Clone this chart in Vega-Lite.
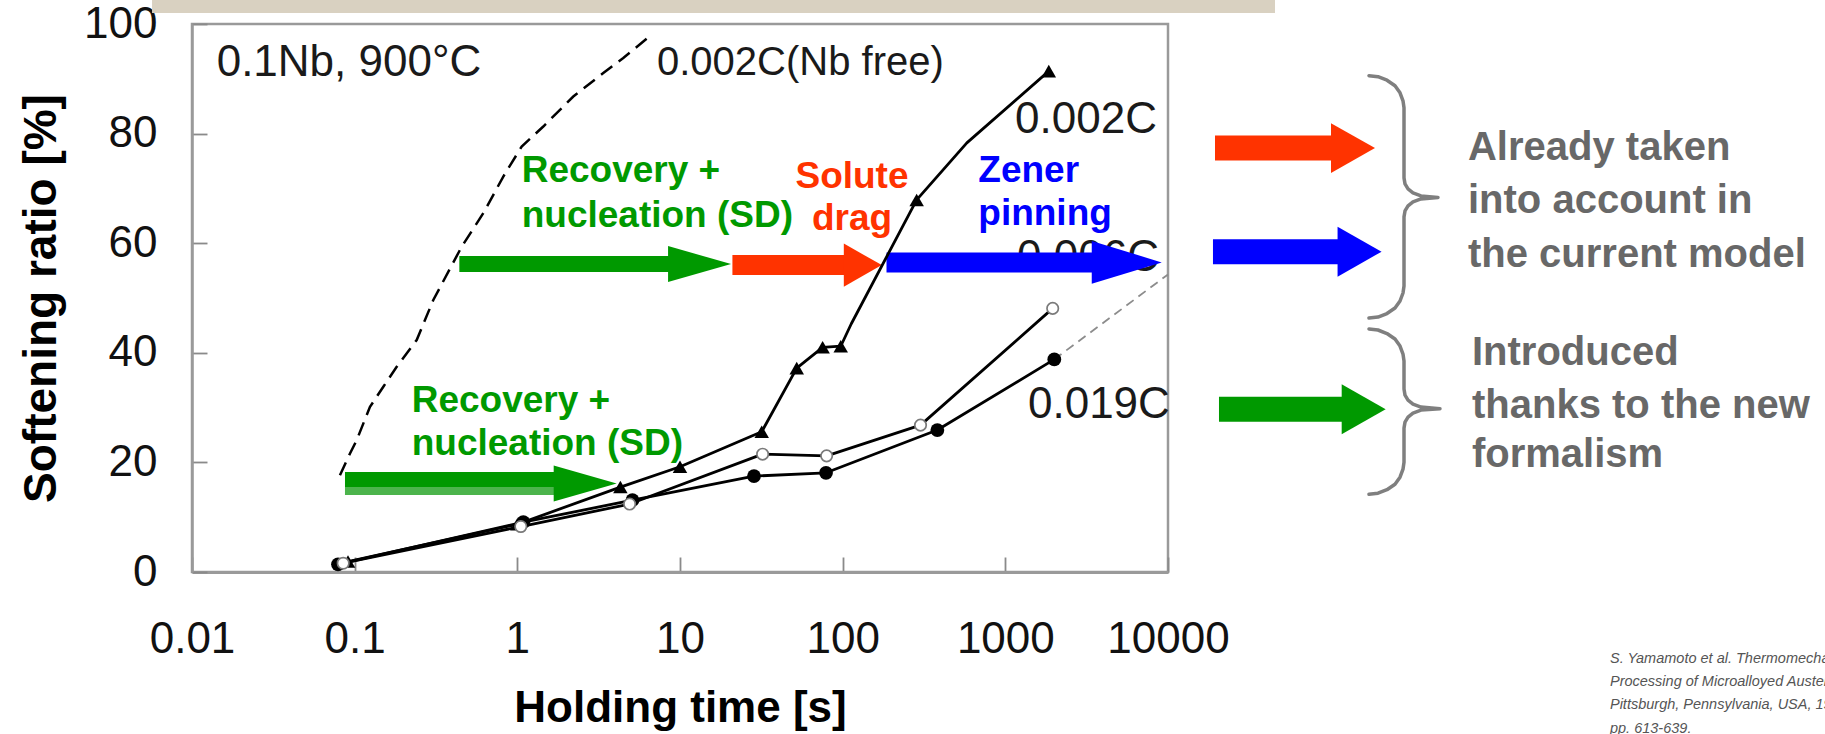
{
  "$schema": "https://vega.github.io/schema/vega-lite/v6.json",
  "width": 976,
  "height": 548,
  "autosize": {"type": "none"},
  "padding": {"left": 192, "top": 24, "right": 657, "bottom": 162},
  "background": "white",
  "config": {
    "font": "Liberation Sans",
    "view": {"stroke": "#9a9a9a", "strokeWidth": 2.5},
    "axis": {"grid": false},
    "axisX": {
      "tickSize": -15, "tickWidth": 1.8, "tickColor": "#8a8a8a",
      "domainColor": "#9a9a9a", "domainWidth": 3,
      "labelFontSize": 44, "labelColor": "#111111", "labelPadding": 60,
      "labelFlush": false, "labelOverlap": false, "labelBound": false,
      "titleFontSize": 44, "titleFontWeight": "bold", "titleColor": "#000000", "titlePadding": 25
    },
    "axisY": {
      "tickSize": -15, "tickWidth": 1.8, "tickColor": "#8a8a8a",
      "domainColor": "#9a9a9a", "domainWidth": 2.5,
      "labelFontSize": 44, "labelColor": "#111111", "labelPadding": 50,
      "labelFlush": false, "labelOverlap": false, "labelBound": false,
      "titleFontSize": 46, "titleFontWeight": "bold", "titleColor": "#000000", "titlePadding": 18
    }
  },
  "datasets": {
    "banner": [{"t0": 0.00568, "t1": 45470, "r0": 102.0, "r1": 106}],
    "curves": [
      {"steel": "0.002C (Nb free)", "time": 0.0812, "ratio": 17.66, "kind": "trace"},
      {"steel": "0.002C (Nb free)", "time": 0.0936, "ratio": 21.63, "kind": "trace"},
      {"steel": "0.002C (Nb free)", "time": 0.1029, "ratio": 24.06, "kind": "trace"},
      {"steel": "0.002C (Nb free)", "time": 0.1242, "ratio": 30.14, "kind": "trace"},
      {"steel": "0.002C (Nb free)", "time": 0.150, "ratio": 33.80, "kind": "trace"},
      {"steel": "0.002C (Nb free)", "time": 0.1813, "ratio": 37.45, "kind": "trace"},
      {"steel": "0.002C (Nb free)", "time": 0.2406, "ratio": 42.33, "kind": "trace"},
      {"steel": "0.002C (Nb free)", "time": 0.3044, "ratio": 49.64, "kind": "trace"},
      {"steel": "0.002C (Nb free)", "time": 0.455, "ratio": 59.37, "kind": "trace"},
      {"steel": "0.002C (Nb free)", "time": 0.6176, "ratio": 65.47, "kind": "trace"},
      {"steel": "0.002C (Nb free)", "time": 0.8197, "ratio": 72.16, "kind": "trace"},
      {"steel": "0.002C (Nb free)", "time": 1.0636, "ratio": 77.64, "kind": "trace"},
      {"steel": "0.002C (Nb free)", "time": 1.4441, "ratio": 81.29, "kind": "trace"},
      {"steel": "0.002C (Nb free)", "time": 2.208, "ratio": 86.77, "kind": "trace"},
      {"steel": "0.002C (Nb free)", "time": 3.376, "ratio": 91.05, "kind": "trace"},
      {"steel": "0.002C (Nb free)", "time": 4.481, "ratio": 93.79, "kind": "trace"},
      {"steel": "0.002C (Nb free)", "time": 6.6, "ratio": 97.9, "kind": "trace"},

      {"steel": "0.002C", "time": 0.091, "ratio": 1.9, "kind": "measured"},
      {"steel": "0.002C", "time": 1.0, "ratio": 8.7, "kind": "measured"},
      {"steel": "0.002C", "time": 4.3, "ratio": 15.5, "kind": "measured"},
      {"steel": "0.002C", "time": 10.0, "ratio": 19.2, "kind": "measured"},
      {"steel": "0.002C", "time": 31.8, "ratio": 25.6, "kind": "measured"},
      {"steel": "0.002C", "time": 52.2, "ratio": 37.2, "kind": "measured"},
      {"steel": "0.002C", "time": 75.3, "ratio": 41.0, "kind": "measured"},
      {"steel": "0.002C", "time": 97.3, "ratio": 41.2, "kind": "measured"},
      {"steel": "0.002C", "time": 113, "ratio": 45.3, "kind": "trace"},
      {"steel": "0.002C", "time": 285, "ratio": 67.9, "kind": "measured"},
      {"steel": "0.002C", "time": 580, "ratio": 78.3, "kind": "trace"},
      {"steel": "0.002C", "time": 1850, "ratio": 91.4, "kind": "measured"},

      {"steel": "0.006C", "time": 0.085, "ratio": 1.6, "kind": "measured"},
      {"steel": "0.006C", "time": 1.05, "ratio": 8.3, "kind": "measured"},
      {"steel": "0.006C", "time": 4.9, "ratio": 12.4, "kind": "measured"},
      {"steel": "0.006C", "time": 32.2, "ratio": 21.5, "kind": "measured"},
      {"steel": "0.006C", "time": 79.7, "ratio": 21.2, "kind": "measured"},
      {"steel": "0.006C", "time": 301, "ratio": 26.8, "kind": "measured"},
      {"steel": "0.006C", "time": 1955, "ratio": 48.1, "kind": "measured"},

      {"steel": "0.019C", "time": 0.079, "ratio": 1.4, "kind": "measured"},
      {"steel": "0.019C", "time": 1.088, "ratio": 9.1, "kind": "measured"},
      {"steel": "0.019C", "time": 5.1, "ratio": 13.1, "kind": "measured"},
      {"steel": "0.019C", "time": 28.5, "ratio": 17.5, "kind": "measured"},
      {"steel": "0.019C", "time": 79.0, "ratio": 18.1, "kind": "measured"},
      {"steel": "0.019C", "time": 382, "ratio": 25.9, "kind": "measured"},
      {"steel": "0.019C", "time": 2000, "ratio": 38.8, "kind": "measured"},

      {"steel": "0.019C trend", "time": 2000, "ratio": 38.8, "kind": "trace"},
      {"steel": "0.019C trend", "time": 10000, "ratio": 54.3, "kind": "trace"}
    ],
    "arrows": [
      {"process": "Recovery + nucleation", "place": "upper", "t": 0.44, "base": 8.8, "tip": 20.6, "r": 56.2},
      {"process": "Solute drag", "place": "upper", "t": 21.0, "base": 103, "tip": 174, "r": 56.0},
      {"process": "Zener pinning", "place": "upper", "t": 186, "base": 3460, "tip": 9150, "r": 56.5},
      {"process": "Recovery + nucleation", "place": "lower", "t": 0.0872, "base": 1.70, "tip": 4.08, "r": 16.15},
      {"process": "Solute drag", "place": "side", "t": 19450, "base": 107800, "tip": 187300, "r": 77.35},
      {"process": "Zener pinning", "place": "side", "t": 18900, "base": 114100, "tip": 205600, "r": 58.46},
      {"process": "Recovery + nucleation", "place": "side", "t": 20580, "base": 118200, "tip": 217800, "r": 29.72}
    ],
    "braces": [
      {"brace": "model", "seq": 1, "t": 172000, "r": 90.56},
      {"brace": "model", "seq": 2, "t": 195400, "r": 90.38},
      {"brace": "model", "seq": 3, "t": 221900, "r": 89.74},
      {"brace": "model", "seq": 4, "t": 248600, "r": 88.73},
      {"brace": "model", "seq": 5, "t": 266900, "r": 87.45},
      {"brace": "model", "seq": 6, "t": 278400, "r": 85.99},
      {"brace": "model", "seq": 7, "t": 282400, "r": 84.71},
      {"brace": "model", "seq": 8, "t": 282400, "r": 71.92},
      {"brace": "model", "seq": 9, "t": 286400, "r": 70.82},
      {"brace": "model", "seq": 10, "t": 298900, "r": 69.91},
      {"brace": "model", "seq": 11, "t": 320600, "r": 69.18},
      {"brace": "model", "seq": 12, "t": 359200, "r": 68.63},
      {"brace": "model", "seq": 13, "t": 456700, "r": 68.36},
      {"brace": "model", "seq": 14, "t": 359200, "r": 68.08},
      {"brace": "model", "seq": 15, "t": 320600, "r": 67.53},
      {"brace": "model", "seq": 16, "t": 298900, "r": 66.80},
      {"brace": "model", "seq": 17, "t": 286400, "r": 65.89},
      {"brace": "model", "seq": 18, "t": 282400, "r": 64.80},
      {"brace": "model", "seq": 19, "t": 282400, "r": 52.19},
      {"brace": "model", "seq": 20, "t": 278400, "r": 50.91},
      {"brace": "model", "seq": 21, "t": 266900, "r": 49.45},
      {"brace": "model", "seq": 22, "t": 248600, "r": 48.17},
      {"brace": "model", "seq": 23, "t": 221900, "r": 47.17},
      {"brace": "model", "seq": 24, "t": 195400, "r": 46.53},
      {"brace": "model", "seq": 25, "t": 172000, "r": 46.35},
      {"brace": "new", "seq": 1, "t": 172000, "r": 44.34},
      {"brace": "new", "seq": 2, "t": 195400, "r": 44.16},
      {"brace": "new", "seq": 3, "t": 221900, "r": 43.52},
      {"brace": "new", "seq": 4, "t": 248600, "r": 42.51},
      {"brace": "new", "seq": 5, "t": 266900, "r": 41.23},
      {"brace": "new", "seq": 6, "t": 278400, "r": 39.77},
      {"brace": "new", "seq": 7, "t": 282400, "r": 38.49},
      {"brace": "new", "seq": 8, "t": 282400, "r": 33.38},
      {"brace": "new", "seq": 9, "t": 286400, "r": 32.28},
      {"brace": "new", "seq": 10, "t": 298900, "r": 31.37},
      {"brace": "new", "seq": 11, "t": 320600, "r": 30.64},
      {"brace": "new", "seq": 12, "t": 359200, "r": 30.09},
      {"brace": "new", "seq": 13, "t": 469900, "r": 29.81},
      {"brace": "new", "seq": 14, "t": 359200, "r": 29.54},
      {"brace": "new", "seq": 15, "t": 320600, "r": 28.99},
      {"brace": "new", "seq": 16, "t": 298900, "r": 28.26},
      {"brace": "new", "seq": 17, "t": 286400, "r": 27.35},
      {"brace": "new", "seq": 18, "t": 282400, "r": 26.25},
      {"brace": "new", "seq": 19, "t": 282400, "r": 20.04},
      {"brace": "new", "seq": 20, "t": 278400, "r": 18.76},
      {"brace": "new", "seq": 21, "t": 266900, "r": 17.30},
      {"brace": "new", "seq": 22, "t": 248600, "r": 16.02},
      {"brace": "new", "seq": 23, "t": 221900, "r": 15.02},
      {"brace": "new", "seq": 24, "t": 195400, "r": 14.38},
      {"brace": "new", "seq": 25, "t": 172000, "r": 14.19}
    ],
    "notes": [
      {"group": "curve", "label": "0.1Nb, 900°C", "t": 0.01418, "r": 90.43},
      {"group": "curve-free", "label": "0.002C(Nb free)", "t": 7.22, "r": 90.74},
      {"group": "curve", "label": "0.002C", "t": 1147, "r": 80.09},
      {"group": "curve", "label": "0.006C", "t": 1180, "r": 54.93},
      {"group": "curve", "label": "0.019C", "t": 1378, "r": 28.08},
      {"group": "recovery", "label": "Recovery +", "t": 1.0636, "r": 71.25},
      {"group": "recovery", "label": "nucleation (SD)", "t": 1.0636, "r": 63.03},
      {"group": "recovery", "label": "Recovery +", "t": 0.2242, "r": 29.23},
      {"group": "recovery", "label": "nucleation (SD)", "t": 0.2242, "r": 21.32},
      {"group": "drag", "label": "Solute", "t": 114.1, "r": 70.04},
      {"group": "drag", "label": "drag", "t": 114.1, "r": 62.42},
      {"group": "pinning", "label": "Zener", "t": 681.9, "r": 71.25},
      {"group": "pinning", "label": "pinning", "t": 681.9, "r": 63.34},
      {"group": "summary", "label": "Already taken", "t": 698500, "r": 75.23},
      {"group": "summary", "label": "into account in", "t": 698500, "r": 65.47},
      {"group": "summary", "label": "the current model", "t": 698500, "r": 55.72},
      {"group": "summary", "label": "Introduced", "t": 739200, "r": 37.76},
      {"group": "summary", "label": "thanks to the new", "t": 739200, "r": 28.02},
      {"group": "summary", "label": "formalism", "t": 739200, "r": 19.18},
      {"group": "reference", "label": "S. Yamamoto et al. Thermomechanical", "t": 5213000, "r": -16.68},
      {"group": "reference", "label": "Processing of Microalloyed Austenite,", "t": 5213000, "r": -20.88},
      {"group": "reference", "label": "Pittsburgh, Pennsylvania, USA, 1982,", "t": 5213000, "r": -25.08},
      {"group": "reference", "label": "pp. 613-639.", "t": 5213000, "r": -29.29}
    ]
  },
  "layer": [
    {
      "data": {"name": "curves"},
      "transform": [{"filter": {"field": "steel", "oneOf": ["0.002C", "0.006C", "0.019C"]}}],
      "mark": {"type": "line", "color": "#000000", "strokeWidth": 2.4, "opacity": 0},
      "encoding": {
        "x": {
          "field": "time", "type": "quantitative", "title": "Holding time [s]",
          "scale": {"type": "log", "domain": [0.01, 10000], "nice": false},
          "axis": {"values": [0.01, 0.1, 1, 10, 100, 1000, 10000], "format": "~g"}
        },
        "y": {
          "field": "ratio", "type": "quantitative", "title": "Softening ratio [%]",
          "scale": {"domain": [0, 100], "nice": false, "zero": false},
          "axis": {"values": [0, 20, 40, 60, 80, 100]}
        },
        "detail": {"field": "steel"}
      }
    },
    {
      "data": {"name": "banner"},
      "mark": {"type": "rect", "color": "#d9d1c1", "clip": false},
      "encoding": {
        "x": {"field": "t0", "type": "quantitative", "title": "Holding time [s]", "scale": {"type": "log", "domain": [0.01, 10000], "nice": false}},
        "x2": {"field": "t1"},
        "y": {"field": "r0", "type": "quantitative", "title": "Softening ratio [%]", "scale": {"domain": [0, 100], "nice": false, "zero": false}},
        "y2": {"field": "r1"}
      }
    },
    {
      "data": {"name": "notes"},
      "transform": [{"filter": "datum.group == 'curve'"}],
      "mark": {"type": "text", "align": "left", "baseline": "alphabetic", "fontSize": 44, "color": "#1a1a1a", "clip": false},
      "encoding": {
        "x": {"field": "t", "type": "quantitative", "title": "Holding time [s]", "scale": {"type": "log", "domain": [0.01, 10000], "nice": false}},
        "y": {"field": "r", "type": "quantitative", "title": "Softening ratio [%]", "scale": {"domain": [0, 100], "nice": false, "zero": false}},
        "text": {"field": "label"}
      }
    },
    {
      "data": {"name": "notes"},
      "transform": [{"filter": "datum.group == 'curve-free'"}],
      "mark": {"type": "text", "align": "left", "baseline": "alphabetic", "fontSize": 40, "color": "#1a1a1a", "clip": false},
      "encoding": {
        "x": {"field": "t", "type": "quantitative", "title": "Holding time [s]", "scale": {"type": "log", "domain": [0.01, 10000], "nice": false}},
        "y": {"field": "r", "type": "quantitative", "title": "Softening ratio [%]", "scale": {"domain": [0, 100], "nice": false, "zero": false}},
        "text": {"field": "label"}
      }
    },
    {
      "data": {"name": "notes"},
      "transform": [{"filter": "datum.group == 'recovery'"}],
      "mark": {"type": "text", "align": "left", "baseline": "alphabetic", "fontSize": 37, "fontWeight": "bold", "color": "#009900", "clip": false},
      "encoding": {
        "x": {"field": "t", "type": "quantitative", "title": "Holding time [s]", "scale": {"type": "log", "domain": [0.01, 10000], "nice": false}},
        "y": {"field": "r", "type": "quantitative", "title": "Softening ratio [%]", "scale": {"domain": [0, 100], "nice": false, "zero": false}},
        "text": {"field": "label"}
      }
    },
    {
      "data": {"name": "notes"},
      "transform": [{"filter": "datum.group == 'drag'"}],
      "mark": {"type": "text", "align": "center", "baseline": "alphabetic", "fontSize": 37, "fontWeight": "bold", "color": "#ff3300", "clip": false},
      "encoding": {
        "x": {"field": "t", "type": "quantitative", "title": "Holding time [s]", "scale": {"type": "log", "domain": [0.01, 10000], "nice": false}},
        "y": {"field": "r", "type": "quantitative", "title": "Softening ratio [%]", "scale": {"domain": [0, 100], "nice": false, "zero": false}},
        "text": {"field": "label"}
      }
    },
    {
      "data": {"name": "notes"},
      "transform": [{"filter": "datum.group == 'pinning'"}],
      "mark": {"type": "text", "align": "left", "baseline": "alphabetic", "fontSize": 37, "fontWeight": "bold", "color": "#0000ff", "clip": false},
      "encoding": {
        "x": {"field": "t", "type": "quantitative", "title": "Holding time [s]", "scale": {"type": "log", "domain": [0.01, 10000], "nice": false}},
        "y": {"field": "r", "type": "quantitative", "title": "Softening ratio [%]", "scale": {"domain": [0, 100], "nice": false, "zero": false}},
        "text": {"field": "label"}
      }
    },
    {
      "data": {"name": "arrows"},
      "transform": [{"filter": "datum.place == 'upper' && datum.process == 'Recovery + nucleation'"}],
      "mark": {"type": "rule", "strokeWidth": 16, "strokeCap": "butt", "clip": false},
      "encoding": {
        "x": {"field": "t", "type": "quantitative", "title": "Holding time [s]", "scale": {"type": "log", "domain": [0.01, 10000], "nice": false}},
        "x2": {"field": "base"},
        "y": {"field": "r", "type": "quantitative", "title": "Softening ratio [%]", "scale": {"domain": [0, 100], "nice": false, "zero": false}},
        "color": {"field": "process", "type": "nominal", "scale": {"domain": ["Recovery + nucleation", "Solute drag", "Zener pinning"], "range": ["#009900", "#ff3300", "#0000ff"]}, "legend": null}
      }
    },
    {
      "data": {"name": "arrows"},
      "transform": [{"filter": "datum.place == 'upper' && datum.process != 'Recovery + nucleation'"}],
      "mark": {"type": "rule", "strokeWidth": 20, "strokeCap": "butt", "clip": false},
      "encoding": {
        "x": {"field": "t", "type": "quantitative", "title": "Holding time [s]", "scale": {"type": "log", "domain": [0.01, 10000], "nice": false}},
        "x2": {"field": "base"},
        "y": {"field": "r", "type": "quantitative", "title": "Softening ratio [%]", "scale": {"domain": [0, 100], "nice": false, "zero": false}},
        "color": {"field": "process", "type": "nominal", "scale": {"domain": ["Recovery + nucleation", "Solute drag", "Zener pinning"], "range": ["#009900", "#ff3300", "#0000ff"]}, "legend": null}
      }
    },
    {
      "data": {"name": "arrows"},
      "transform": [{"filter": "datum.place == 'lower'"}],
      "mark": {"type": "rule", "strokeWidth": 23, "strokeCap": "butt", "clip": false},
      "encoding": {
        "x": {"field": "t", "type": "quantitative", "title": "Holding time [s]", "scale": {"type": "log", "domain": [0.01, 10000], "nice": false}},
        "x2": {"field": "base"},
        "y": {"field": "r", "type": "quantitative", "title": "Softening ratio [%]", "scale": {"domain": [0, 100], "nice": false, "zero": false}},
        "color": {"field": "process", "type": "nominal", "scale": {"domain": ["Recovery + nucleation", "Solute drag", "Zener pinning"], "range": ["#009900", "#ff3300", "#0000ff"]}, "legend": null}
      }
    },
    {
      "data": {"name": "arrows"},
      "transform": [{"filter": "datum.place == 'lower'"}],
      "mark": {"type": "rule", "strokeWidth": 8, "strokeCap": "butt", "color": "#4cb44c", "yOffset": 7.5, "clip": false},
      "encoding": {
        "x": {"field": "t", "type": "quantitative", "title": "Holding time [s]", "scale": {"type": "log", "domain": [0.01, 10000], "nice": false}},
        "x2": {"field": "base"},
        "y": {"field": "r", "type": "quantitative", "title": "Softening ratio [%]", "scale": {"domain": [0, 100], "nice": false, "zero": false}}
      }
    },
    {
      "data": {"name": "arrows"},
      "transform": [{"filter": "datum.place == 'side'"}],
      "mark": {"type": "rule", "strokeWidth": 25, "strokeCap": "butt", "clip": false},
      "encoding": {
        "x": {"field": "t", "type": "quantitative", "title": "Holding time [s]", "scale": {"type": "log", "domain": [0.01, 10000], "nice": false}},
        "x2": {"field": "base"},
        "y": {"field": "r", "type": "quantitative", "title": "Softening ratio [%]", "scale": {"domain": [0, 100], "nice": false, "zero": false}},
        "color": {"field": "process", "type": "nominal", "scale": {"domain": ["Recovery + nucleation", "Solute drag", "Zener pinning"], "range": ["#009900", "#ff3300", "#0000ff"]}, "legend": null}
      }
    },
    {
      "data": {"name": "arrows"},
      "transform": [{"filter": "datum.place != 'side' && datum.process == 'Recovery + nucleation'"}],
      "mark": {"type": "point", "shape": "M0,0L-2,-0.571L-2,0.571Z", "size": 3969, "filled": true, "opacity": 1, "strokeWidth": 0, "clip": false},
      "encoding": {
        "x": {"field": "tip", "type": "quantitative", "title": "Holding time [s]", "scale": {"type": "log", "domain": [0.01, 10000], "nice": false}},
        "y": {"field": "r", "type": "quantitative", "title": "Softening ratio [%]", "scale": {"domain": [0, 100], "nice": false, "zero": false}},
        "color": {"field": "process", "type": "nominal", "scale": {"domain": ["Recovery + nucleation", "Solute drag", "Zener pinning"], "range": ["#009900", "#ff3300", "#0000ff"]}, "legend": null}
      }
    },
    {
      "data": {"name": "arrows"},
      "transform": [{"filter": "datum.place == 'upper' && datum.process == 'Solute drag'"}],
      "mark": {"type": "point", "shape": "M0,0L-2,-1.132L-2,1.132Z", "size": 1444, "filled": true, "opacity": 1, "strokeWidth": 0, "clip": false},
      "encoding": {
        "x": {"field": "tip", "type": "quantitative", "title": "Holding time [s]", "scale": {"type": "log", "domain": [0.01, 10000], "nice": false}},
        "y": {"field": "r", "type": "quantitative", "title": "Softening ratio [%]", "scale": {"domain": [0, 100], "nice": false, "zero": false}},
        "color": {"field": "process", "type": "nominal", "scale": {"domain": ["Recovery + nucleation", "Solute drag", "Zener pinning"], "range": ["#009900", "#ff3300", "#0000ff"]}, "legend": null}
      }
    },
    {
      "data": {"name": "arrows"},
      "transform": [{"filter": "datum.place == 'upper' && datum.process == 'Zener pinning'"}],
      "mark": {"type": "point", "shape": "M0,0L-2,-0.614L-2,0.614Z", "size": 4900, "filled": true, "opacity": 1, "strokeWidth": 0, "clip": false},
      "encoding": {
        "x": {"field": "tip", "type": "quantitative", "title": "Holding time [s]", "scale": {"type": "log", "domain": [0.01, 10000], "nice": false}},
        "y": {"field": "r", "type": "quantitative", "title": "Softening ratio [%]", "scale": {"domain": [0, 100], "nice": false, "zero": false}},
        "color": {"field": "process", "type": "nominal", "scale": {"domain": ["Recovery + nucleation", "Solute drag", "Zener pinning"], "range": ["#009900", "#ff3300", "#0000ff"]}, "legend": null}
      }
    },
    {
      "data": {"name": "arrows"},
      "transform": [{"filter": "datum.place == 'side'"}],
      "mark": {"type": "point", "shape": "M0,0L-2,-1.136L-2,1.136Z", "size": 1936, "filled": true, "opacity": 1, "strokeWidth": 0, "clip": false},
      "encoding": {
        "x": {"field": "tip", "type": "quantitative", "title": "Holding time [s]", "scale": {"type": "log", "domain": [0.01, 10000], "nice": false}},
        "y": {"field": "r", "type": "quantitative", "title": "Softening ratio [%]", "scale": {"domain": [0, 100], "nice": false, "zero": false}},
        "color": {"field": "process", "type": "nominal", "scale": {"domain": ["Recovery + nucleation", "Solute drag", "Zener pinning"], "range": ["#009900", "#ff3300", "#0000ff"]}, "legend": null}
      }
    },
    {
      "data": {"name": "curves"},
      "transform": [{"filter": {"field": "steel", "oneOf": ["0.002C", "0.006C", "0.019C"]}}],
      "mark": {"type": "line", "color": "#000000", "strokeWidth": 2.8, "strokeJoin": "round"},
      "encoding": {
        "x": {"field": "time", "type": "quantitative", "title": "Holding time [s]", "scale": {"type": "log", "domain": [0.01, 10000], "nice": false}},
        "y": {"field": "ratio", "type": "quantitative", "title": "Softening ratio [%]", "scale": {"domain": [0, 100], "nice": false, "zero": false}},
        "detail": {"field": "steel"}
      }
    },
    {
      "data": {"name": "curves"},
      "transform": [{"filter": "datum.steel == '0.002C (Nb free)'"}],
      "mark": {"type": "line", "color": "#000000", "strokeWidth": 2.5, "strokeDash": [14, 8]},
      "encoding": {
        "x": {"field": "time", "type": "quantitative", "title": "Holding time [s]", "scale": {"type": "log", "domain": [0.01, 10000], "nice": false}},
        "y": {"field": "ratio", "type": "quantitative", "title": "Softening ratio [%]", "scale": {"domain": [0, 100], "nice": false, "zero": false}}
      }
    },
    {
      "data": {"name": "curves"},
      "transform": [{"filter": "datum.steel == '0.019C trend'"}],
      "mark": {"type": "line", "color": "#8c8c8c", "strokeWidth": 1.8, "strokeDash": [9, 6]},
      "encoding": {
        "x": {"field": "time", "type": "quantitative", "title": "Holding time [s]", "scale": {"type": "log", "domain": [0.01, 10000], "nice": false}},
        "y": {"field": "ratio", "type": "quantitative", "title": "Softening ratio [%]", "scale": {"domain": [0, 100], "nice": false, "zero": false}}
      }
    },
    {
      "data": {"name": "curves"},
      "transform": [{"filter": "datum.steel == '0.002C' && datum.kind == 'measured'"}],
      "mark": {"type": "point", "shape": "triangle-up", "size": 210, "filled": true, "opacity": 1, "color": "#000000", "strokeWidth": 0},
      "encoding": {
        "x": {"field": "time", "type": "quantitative", "title": "Holding time [s]", "scale": {"type": "log", "domain": [0.01, 10000], "nice": false}},
        "y": {"field": "ratio", "type": "quantitative", "title": "Softening ratio [%]", "scale": {"domain": [0, 100], "nice": false, "zero": false}}
      }
    },
    {
      "data": {"name": "curves"},
      "transform": [{"filter": "datum.steel == '0.019C'"}],
      "mark": {"type": "point", "shape": "circle", "size": 190, "filled": true, "opacity": 1, "color": "#000000", "strokeWidth": 0},
      "encoding": {
        "x": {"field": "time", "type": "quantitative", "title": "Holding time [s]", "scale": {"type": "log", "domain": [0.01, 10000], "nice": false}},
        "y": {"field": "ratio", "type": "quantitative", "title": "Softening ratio [%]", "scale": {"domain": [0, 100], "nice": false, "zero": false}}
      }
    },
    {
      "data": {"name": "curves"},
      "transform": [{"filter": "datum.steel == '0.006C'"}],
      "mark": {"type": "point", "shape": "circle", "size": 130, "filled": false, "fill": "#ffffff", "fillOpacity": 1, "opacity": 1, "stroke": "#7a7a7a", "strokeWidth": 1.7},
      "encoding": {
        "x": {"field": "time", "type": "quantitative", "title": "Holding time [s]", "scale": {"type": "log", "domain": [0.01, 10000], "nice": false}},
        "y": {"field": "ratio", "type": "quantitative", "title": "Softening ratio [%]", "scale": {"domain": [0, 100], "nice": false, "zero": false}}
      }
    },
    {
      "data": {"name": "braces"},
      "mark": {"type": "line", "color": "#7f7f7f", "strokeWidth": 3.5, "strokeJoin": "round", "strokeCap": "round", "clip": false},
      "encoding": {
        "x": {"field": "t", "type": "quantitative", "title": "Holding time [s]", "scale": {"type": "log", "domain": [0.01, 10000], "nice": false}},
        "y": {"field": "r", "type": "quantitative", "title": "Softening ratio [%]", "scale": {"domain": [0, 100], "nice": false, "zero": false}},
        "order": {"field": "seq", "type": "quantitative"},
        "detail": {"field": "brace"}
      }
    },
    {
      "data": {"name": "notes"},
      "transform": [{"filter": "datum.group == 'summary'"}],
      "mark": {"type": "text", "align": "left", "baseline": "alphabetic", "fontSize": 40, "fontWeight": "bold", "color": "#686868", "clip": false},
      "encoding": {
        "x": {"field": "t", "type": "quantitative", "title": "Holding time [s]", "scale": {"type": "log", "domain": [0.01, 10000], "nice": false}},
        "y": {"field": "r", "type": "quantitative", "title": "Softening ratio [%]", "scale": {"domain": [0, 100], "nice": false, "zero": false}},
        "text": {"field": "label"}
      }
    },
    {
      "data": {"name": "notes"},
      "transform": [{"filter": "datum.group == 'reference'"}],
      "mark": {"type": "text", "align": "left", "baseline": "alphabetic", "fontSize": 14.5, "fontStyle": "italic", "color": "#555555", "clip": false},
      "encoding": {
        "x": {"field": "t", "type": "quantitative", "title": "Holding time [s]", "scale": {"type": "log", "domain": [0.01, 10000], "nice": false}},
        "y": {"field": "r", "type": "quantitative", "title": "Softening ratio [%]", "scale": {"domain": [0, 100], "nice": false, "zero": false}},
        "text": {"field": "label"}
      }
    }
  ]
}
